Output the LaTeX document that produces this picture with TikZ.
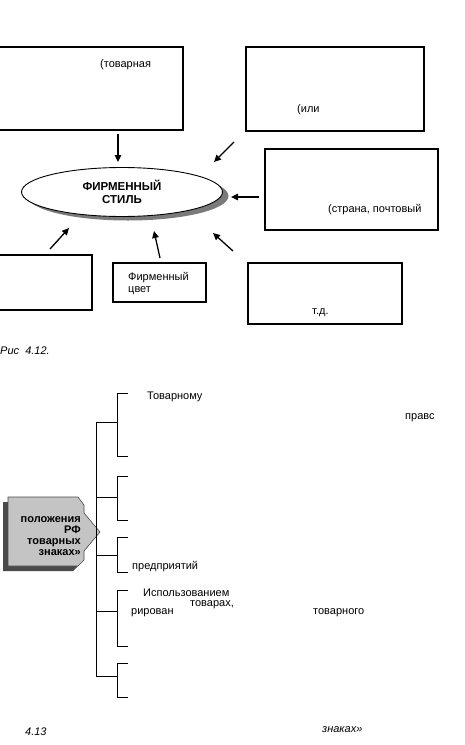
\documentclass[tikz,border=0pt]{standalone}
\usepackage{fontspec}
\setmainfont{Liberation Sans}
\usetikzlibrary{positioning,arrows.meta,shapes.geometric,shadows}
\definecolor{shadowGray}{HTML}{7A7A7A}
\definecolor{plateFill}{HTML}{C4C4C4}
\definecolor{plateShadow}{HTML}{4A4A4A}

\begin{document}
\begin{tikzpicture}[
    x=1pt, y=-1pt,
    block/.style={
        rectangle, draw, line width=1.1pt, inner sep=0pt
    },
    txt/.style={inner sep=0pt, anchor=west, font=\fontsize{11}{11.5}\selectfont},
    caption/.style={txt, font=\itshape\fontsize{11}{12}\selectfont},
    arrow/.style={-{Triangle[length=7pt,width=6.5pt]}, line width=1.3pt},
    bracket/.style={line width=0.9pt}
]
  \path[use as bounding box] (0,0) rectangle (464,745);
  \clip (0,0) rectangle (464,745);

  % Nodes
  \node[block, minimum width=188pt, minimum height=83pt] (mark) at (89,88.5) {};
  \node[block, minimum width=178pt, minimum height=84pt] (logo) at (335,89) {};
  \node[block, minimum width=173pt, minimum height=81pt] (address) at (351.5,189.5) {};
  \node[block, minimum width=97pt, minimum height=55pt] (slogan) at (43.5,282.5) {};
  \node[block, minimum width=93pt, minimum height=39pt] (colour) at (159.5,282.5) {};
  \node[block, minimum width=154pt, minimum height=61pt] (other) at (325,293.5) {};

  \node[ellipse, draw, line width=0.9pt, fill=white,
        minimum width=201pt, minimum height=49pt, align=center,
        font=\bfseries\fontsize{11.5}{12.5}\selectfont,
        drop shadow={shadow xshift=6pt, shadow yshift=-4pt, fill=shadowGray, opacity=1}]
        (style) at (122,192) {ФИРМЕННЫЙ\\СТИЛЬ};

  \node[txt] (markText) at (100,65) {(товарная};
  \node[txt] (logoText) at (297,110) {(или};
  \node[txt] (addressText) at (328,210) {(страна, почтовый};
  \node[txt, align=left] (colourText) at (128,283.5) {Фирменный\\цвет};
  \node[txt] (otherText) at (312,313) {т.д.};
  \node[caption] (figOne) at (0,351) {Рис\ \ 4.12.};

  % Edges
  \coordinate (markFrom) at (118,134);    \coordinate (markTo) at (118,162);
  \coordinate (logoFrom) at (234,142);    \coordinate (logoTo) at (214,162);
  \coordinate (addressFrom) at (259,197); \coordinate (addressTo) at (231,197);
  \coordinate (sloganFrom) at (50,249);   \coordinate (sloganTo) at (69,228);
  \coordinate (colourFrom) at (160,258);  \coordinate (colourTo) at (154,231);
  \coordinate (otherFrom) at (233,251);   \coordinate (otherTo) at (213,233);
  \foreach \src in {mark,logo,address,slogan,colour,other}
    \draw[arrow] (\src From) -- (\src To);

  % Plate with the law title
  \begin{scope}[shift={(-5,5)}]
    \fill[plateShadow] (8,497) -- (78,497) -- (84,505) -- (84,513) -- (100,532)
      -- (84,551) -- (84,560) -- (78,566) -- (8,566) -- cycle;
  \end{scope}
  \filldraw[fill=plateFill, draw=plateShadow, line width=0.6pt]
    (8,497) -- (78,497) -- (84,505) -- (84,513) -- (100,532)
    -- (84,551) -- (84,560) -- (78,566) -- (8,566) -- cycle;
  \node[inner sep=0pt, anchor=east, align=right,
        font=\bfseries\fontsize{11}{11}\selectfont] (law) at (81,536)
        {положения\\РФ\\товарных\\знаках»};

  % Tree of brackets
  \coordinate (trunkTop) at (96,422);
  \coordinate (trunkEnd) at (96,676);
  \draw[bracket] (trunkTop) -- (trunkEnd);
  \foreach \ya/\ym/\yb in {393/422/456, 476/497/520, 537/555/572, 590/611/646, 663/676/697} {
    \draw[bracket] (96,\ym) -- (117,\ym);
    \draw[bracket] (128,\ya) -- (117,\ya) -- (117,\yb) -- (128,\yb);
  }

  \node[txt] (rightText) at (147,397) {Товарному};
  \node[txt] (rightEnd) at (405,418) {правс};
  \node[txt] (firmText) at (132,567) {предприятий};
  \node[txt] (useText) at (143,593) {Использованием};
  \node[txt] (goodsText) at (190,605) {товарах,};
  \node[txt] (regText) at (131,613) {рирован};
  \node[txt] (markWord) at (313,613) {товарного};
  \node[caption] (figTwo) at (25,732) {4.13};
  \node[caption] (figTwoEnd) at (322,730) {знаках»};

\end{tikzpicture}
\end{document}
